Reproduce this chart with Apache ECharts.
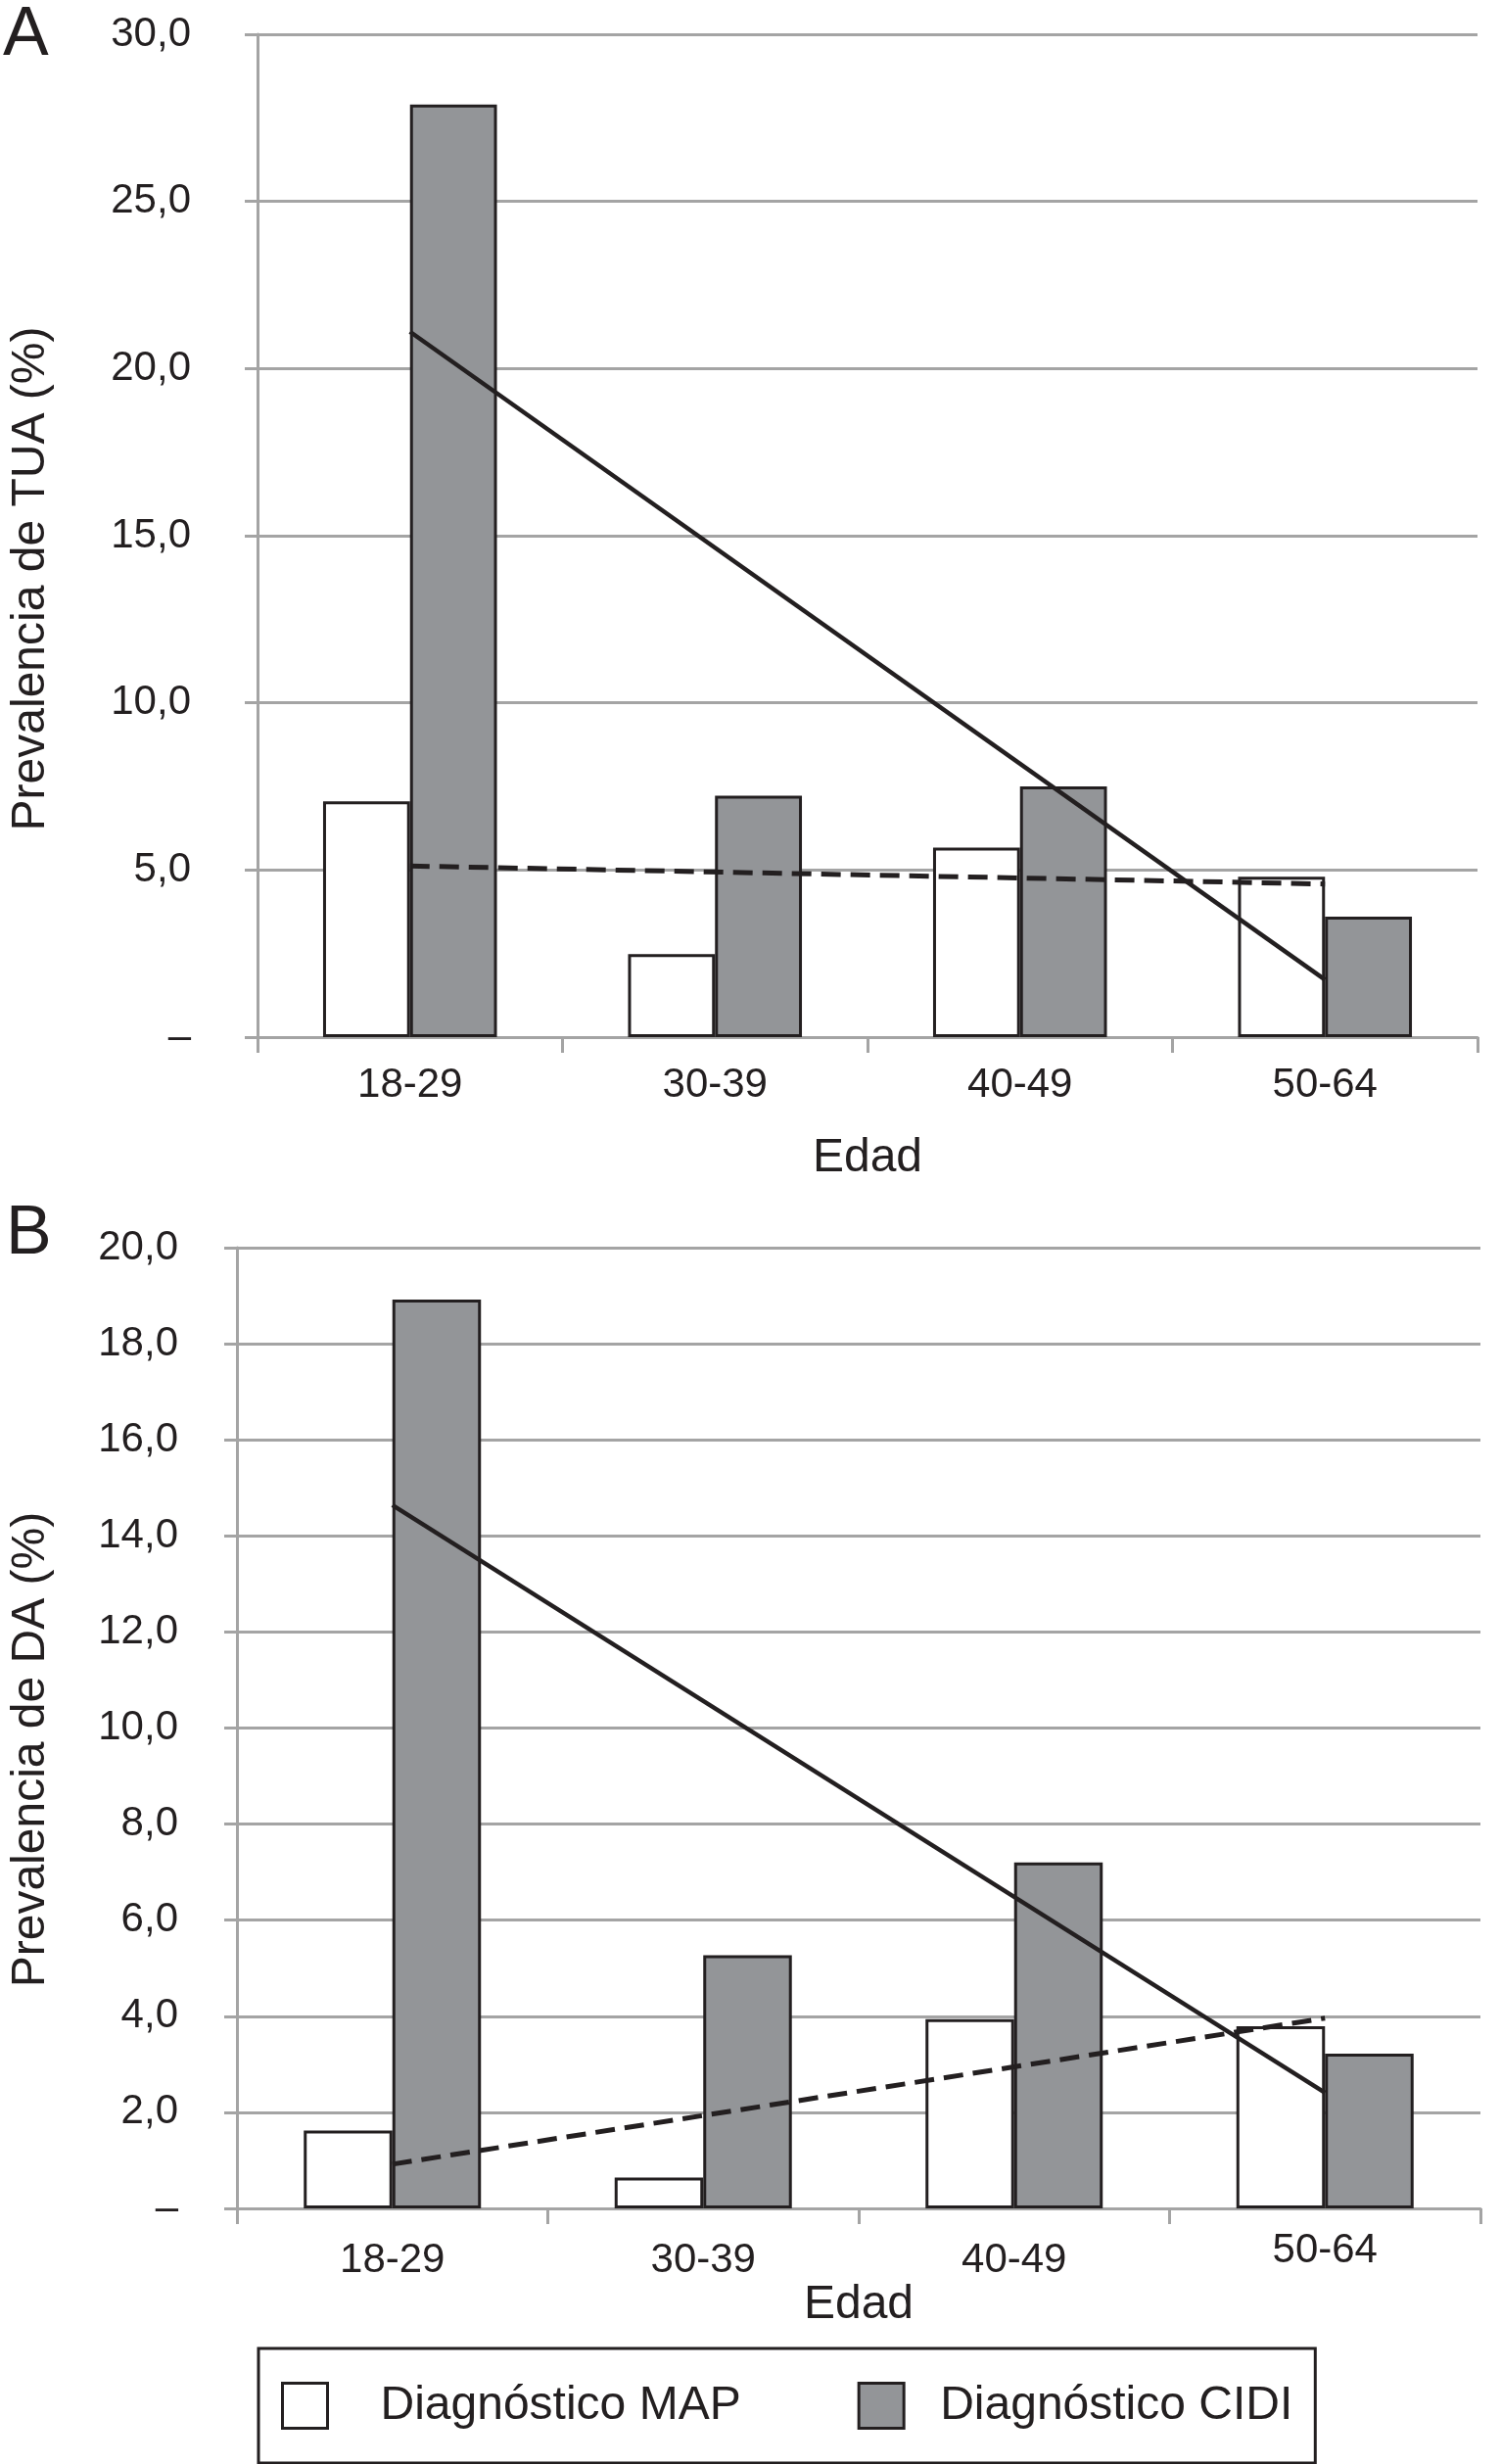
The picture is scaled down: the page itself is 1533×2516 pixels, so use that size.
<!DOCTYPE html>
<html>
<head>
<meta charset="utf-8">
<script src="https://cdn.jsdelivr.net/npm/echarts@6/dist/echarts.min.js"></script>
<style>
  html, body { margin: 0; padding: 0; background: #fff; }
  #chart { width: 1533px; height: 2516px; }
</style>
</head>
<body>
<div id="chart"></div>
<script>
// ---- data ----
const categories = ['18-29', '30-39', '40-49', '50-64'];
const seriesNames = ['Diagnóstico MAP', 'Diagnóstico CIDI'];

// Panel A: Prevalencia de TUA (%)
const mapA = [7.05, 2.48, 5.67, 4.80];
const cidiA = [27.9, 7.22, 7.50, 3.60];
const trendCidiA = [21.1, null, null, 1.72];
const trendMapA = [5.12, null, null, 4.58];

// Panel B: Prevalencia de DA (%)
const mapB = [1.62, 0.64, 3.94, 3.79];
const cidiB = [18.92, 5.27, 7.20, 3.22];
const trendCidiB = [14.64, null, null, 2.41];
const trendMapB = [0.92, null, null, 3.96];

// axis scales
const yAxisA = { min: 0, max: 30, interval: 5 };
const yAxisB = { min: 0, max: 20, interval: 2 };

// ---- style ----
const FONT = '"Liberation Sans", Arial, Helvetica, sans-serif';
const INK = '#231f20';
const GRID = '#a4a4a4';
const GRAY = '#939598';

function fmt(v) {
  return v === 0 ? '–' : v.toFixed(1).replace('.', ',');
}

function xAxisCfg(gridIndex, nameGap, labelMargin, raiseLast) {
  const data = categories.map(function (c, i) {
    if (raiseLast && i === categories.length - 1) {
      return { value: c, textStyle: { lineHeight: 22 } };
    }
    return c;
  });
  return {
    type: 'category', gridIndex, data, boundaryGap: true,
    name: 'Edad', nameLocation: 'middle', nameGap,
    nameTextStyle: { fontFamily: FONT, fontSize: 48, color: INK },
    axisLine: { show: true, lineStyle: { color: GRID, width: 3 } },
    axisTick: { show: true, length: 16, alignWithLabel: false, lineStyle: { color: GRID, width: 3 } },
    axisLabel: { fontFamily: FONT, fontSize: 42, color: INK, margin: labelMargin, interval: 0, lineHeight: 42 },
    splitLine: { show: false }
  };
}

function yAxisCfg(gridIndex, scale, name, nameGap, labelMargin, shift) {
  return {
    type: 'value', gridIndex, min: scale.min, max: scale.max, interval: scale.interval,
    name, nameLocation: 'middle', nameGap,
    nameTextStyle: { fontFamily: FONT, fontSize: 48, color: INK, padding: [0, shift, 0, 0] },
    axisLine: { show: true, lineStyle: { color: GRID, width: 3 } },
    axisTick: { show: true, length: 13, lineStyle: { color: GRID, width: 3 } },
    axisLabel: { fontFamily: FONT, fontSize: 42, color: INK, margin: labelMargin, formatter: fmt },
    splitLine: { show: true, lineStyle: { color: GRID, width: 3 } }
  };
}

function barSeries(name, data, axisIdx, color) {
  return {
    type: 'bar', name, data, xAxisIndex: axisIdx, yAxisIndex: axisIdx,
    barGap: '0%', barCategoryGap: '43%',
    itemStyle: { color, borderColor: INK, borderWidth: 3 },
    z: 2
  };
}

function trendSeries(name, data, axisIdx, dashed) {
  return {
    type: 'line', name, data, xAxisIndex: axisIdx, yAxisIndex: axisIdx,
    connectNulls: true, symbol: 'none', silent: true,
    lineStyle: { color: INK, width: dashed ? 5 : 4.5, type: dashed ? [20, 10] : 'solid' },
    z: 5
  };
}

const chart = echarts.init(document.getElementById('chart'), null, { renderer: 'canvas' });

chart.setOption({
  animation: false,
  backgroundColor: '#fff',
  title: [
    { text: 'A', left: 3, top: 2, padding: 0, textStyle: { fontFamily: FONT, fontSize: 70, fontWeight: 'normal', color: INK } },
    { text: 'B', left: 6, top: 1226, padding: 0, textStyle: { fontFamily: FONT, fontSize: 70, fontWeight: 'normal', color: INK } }
  ],
  grid: [
    { left: 261, top: 35, width: 1248, height: 1024 },
    { left: 240, top: 1274, width: 1272, height: 981 }
  ],
  xAxis: [xAxisCfg(0, 100, 28, false), xAxisCfg(1, 72, 32, true)],
  yAxis: [
    yAxisCfg(0, yAxisA, 'Prevalencia de TUA (%)', 207, 68, 88),
    yAxisCfg(1, yAxisB, 'Prevalencia de DA (%)', 186, 60, 44)
  ],
  legend: {
    show: true, selectedMode: false,
    left: 264, top: 2398,
    orient: 'horizontal',
    padding: [34, 23, 34, 23],
    borderColor: INK, borderWidth: 3,
    itemWidth: 46, itemHeight: 46, itemGap: 119,
    textStyle: { fontFamily: FONT, fontSize: 48, color: INK },
    data: [
      { name: seriesNames[0], icon: 'rect', itemStyle: { color: '#fff', borderColor: INK, borderWidth: 3 },
        textStyle: { padding: [0, 0, 0, 49] } },
      { name: seriesNames[1], icon: 'rect', itemStyle: { color: GRAY, borderColor: INK, borderWidth: 3 },
        textStyle: { padding: [0, 0, 0, 32] } }
    ]
  },
  series: [
    barSeries(seriesNames[0], mapA, 0, '#fff'),
    barSeries(seriesNames[1], cidiA, 0, GRAY),
    trendSeries('Tendencia CIDI A', trendCidiA, 0, false),
    trendSeries('Tendencia MAP A', trendMapA, 0, true),
    barSeries(seriesNames[0], mapB, 1, '#fff'),
    barSeries(seriesNames[1], cidiB, 1, GRAY),
    trendSeries('Tendencia CIDI B', trendCidiB, 1, false),
    trendSeries('Tendencia MAP B', trendMapB, 1, true)
  ]
});
</script>
</body>
</html>
